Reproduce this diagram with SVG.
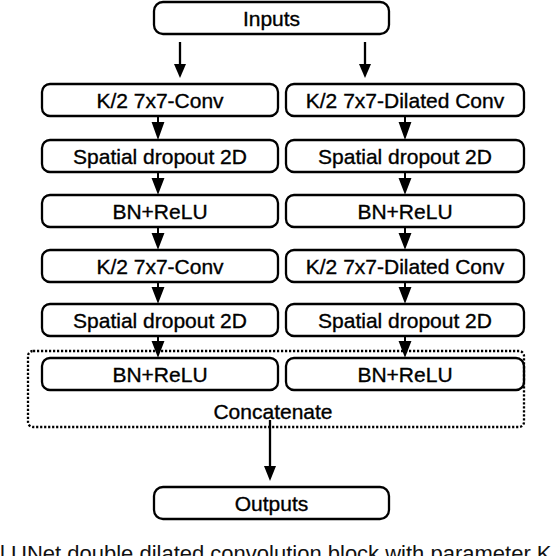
<svg xmlns="http://www.w3.org/2000/svg" width="552" height="556" viewBox="0 0 552 556">
<style>
.box{fill:#fff;stroke:#000;stroke-width:2.3}
.t{font-family:"Liberation Sans",Arial,Helvetica,sans-serif;font-size:21px;fill:#000;stroke:#000;stroke-width:0.35;text-anchor:middle}
.ln{stroke:#000;stroke-width:2.3;fill:none}
.cap{font-family:"Liberation Sans",Arial,Helvetica,sans-serif;font-size:22px;fill:#111}
.sa{stroke:#000;stroke-width:2}
</style>
<rect width="552" height="556" fill="#fff"/>
<g id="connectors">
<line class="ln" x1="180" y1="42" x2="180" y2="66"/>
<path d="M174,64 L186,64 L180,78 Z"/>
<line class="ln" x1="365" y1="42" x2="365" y2="66"/>
<path d="M359,64 L371,64 L365,78 Z"/>
<g id="small-left">
<path class="sa" d="M158,116 V124 M153,123 H163 L158,137 Z"/>
<path class="sa" d="M158,172 V179 M153,179 H163 L158,192 Z"/>
<path class="sa" d="M158,227 V234 M153,234 H163 L158,247 Z"/>
<path class="sa" d="M158,282 V288 M153,288 H163 L158,301 Z"/>
<path class="sa" d="M158,336 V342 M153,342 H163 L158,355 Z"/>
</g>
<g id="small-right">
<path class="sa" d="M405,116 V124 M400,123 H410 L405,137 Z"/>
<path class="sa" d="M405,172 V179 M400,179 H410 L405,192 Z"/>
<path class="sa" d="M405,227 V234 M400,234 H410 L405,247 Z"/>
<path class="sa" d="M405,282 V288 M400,288 H410 L405,301 Z"/>
<path class="sa" d="M405,336 V342 M400,342 H410 L405,355 Z"/>
</g>
<line class="ln" x1="270" y1="420" x2="270" y2="468"/>
<path d="M264,466 L276,466 L270,481 Z"/>
</g>
<g id="inputs"><rect class="box" x="154" y="2" width="235" height="32" rx="9"/><text class="t" x="271.5" y="25.5">Inputs</text></g>
<g id="l1"><rect class="box" x="42" y="84" width="236" height="32" rx="8"/><text class="t" x="160" y="107.5">K/2 7x7-Conv</text></g>
<g id="l2"><rect class="box" x="42" y="140" width="236" height="32" rx="8"/><text class="t" x="160" y="163.5">Spatial dropout 2D</text></g>
<g id="l3"><rect class="box" x="42" y="195" width="236" height="32" rx="8"/><text class="t" x="160" y="218.5">BN+ReLU</text></g>
<g id="l4"><rect class="box" x="42" y="250" width="236" height="32" rx="8"/><text class="t" x="160" y="273.5">K/2 7x7-Conv</text></g>
<g id="l5"><rect class="box" x="42" y="304" width="236" height="32" rx="8"/><text class="t" x="160" y="327.5">Spatial dropout 2D</text></g>
<g id="l6"><rect class="box" x="42" y="358" width="236" height="32" rx="8"/><text class="t" x="160" y="381.5">BN+ReLU</text></g>
<g id="r1"><rect class="box" x="286" y="84" width="238" height="32" rx="8"/><text class="t" x="405" y="107.5">K/2 7x7-Dilated Conv</text></g>
<g id="r2"><rect class="box" x="286" y="140" width="238" height="32" rx="8"/><text class="t" x="405" y="163.5">Spatial dropout 2D</text></g>
<g id="r3"><rect class="box" x="286" y="195" width="238" height="32" rx="8"/><text class="t" x="405" y="218.5">BN+ReLU</text></g>
<g id="r4"><rect class="box" x="286" y="250" width="238" height="32" rx="8"/><text class="t" x="405" y="273.5">K/2 7x7-Dilated Conv</text></g>
<g id="r5"><rect class="box" x="286" y="304" width="238" height="32" rx="8"/><text class="t" x="405" y="327.5">Spatial dropout 2D</text></g>
<g id="r6"><rect class="box" x="286" y="358" width="238" height="32" rx="8"/><text class="t" x="405" y="381.5">BN+ReLU</text></g>
<g id="concatenate"><rect x="28" y="351" width="496" height="76" rx="5" fill="none" stroke="#000" stroke-width="2.3" stroke-dasharray="2.2 1.8"/><text class="t" x="273" y="419">Concatenate</text></g>
<g id="outputs"><rect class="box" x="154" y="487" width="235" height="32" rx="9"/><text class="t" x="271.5" y="510.5">Outputs</text></g>
<text class="cap" x="0" y="561">l UNet double dilated convolution block with parameter K</text>
</svg>
